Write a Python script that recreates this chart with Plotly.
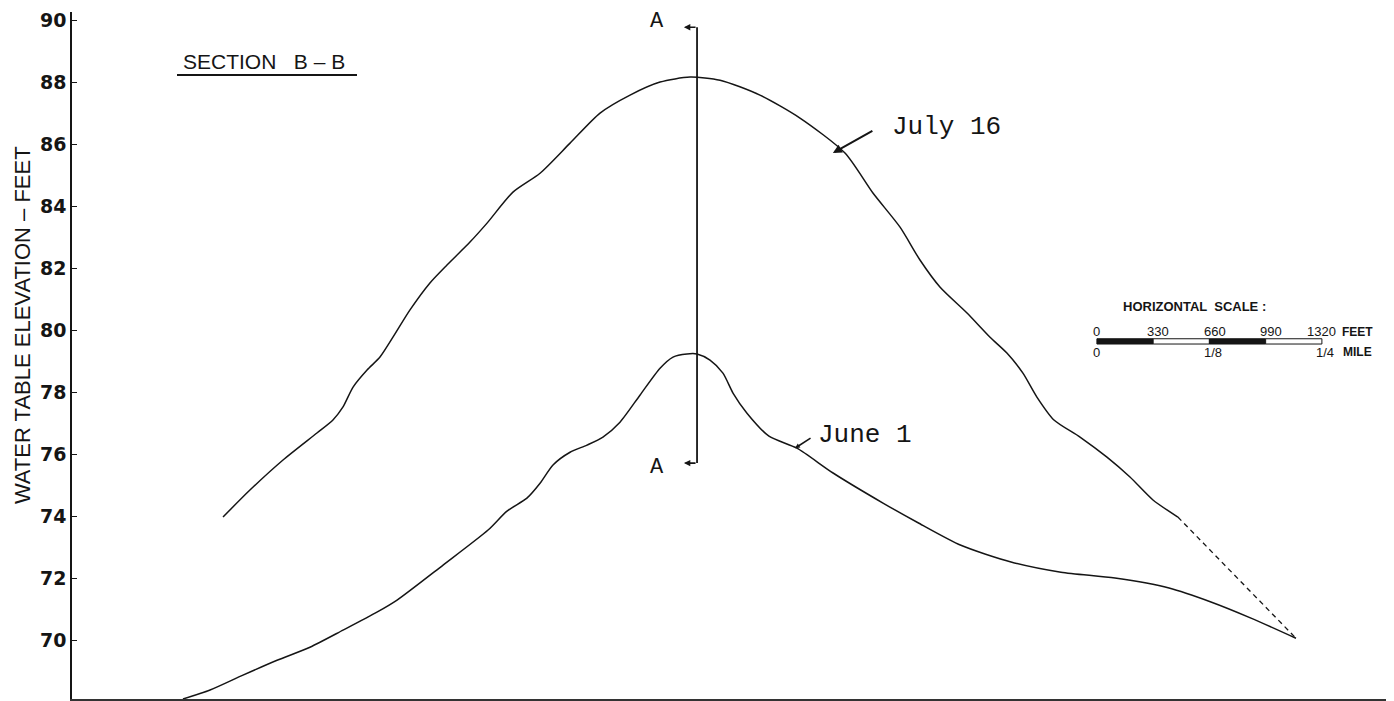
import plotly.graph_objects as go

# ---- data: distance along section (feet) and water-table elevation (feet) ----
july_dist = [886, 1044, 1238, 1437, 1531, 1590, 1649, 1731, 1807, 1883,
             1983, 2100, 2200, 2335, 2435, 2587, 2746, 2922, 3098, 3274,
             3450, 3626, 3802, 4036, 4271, 4535, 4699, 4858, 4975, 5092,
             5251, 5386, 5485, 5579, 5661, 5761, 5914, 6072, 6207, 6342,
             6488]
july_elev = [73.97, 74.84, 75.81, 76.68, 77.10, 77.52, 78.16, 78.71, 79.13, 79.77,
             80.65, 81.52, 82.10, 82.84, 83.45, 84.45, 85.06, 86.03, 87.00, 87.58,
             88.00, 88.16, 88.06, 87.58, 86.84, 85.71, 84.42, 83.32, 82.26, 81.39,
             80.55, 79.77, 79.26, 78.61, 77.84, 77.10, 76.55, 75.90, 75.26, 74.52,
             73.97]
july_extrap_dist = [6488, 7181]
july_extrap_elev = [73.97, 70.06]

june_dist = [651, 810, 1003, 1203, 1396, 1590, 1789, 1907, 2177, 2441,
             2552, 2669, 2746, 2822, 2922, 3021, 3115, 3215, 3332, 3450,
             3526, 3608, 3667, 3743, 3819, 3878, 3960, 4089, 4253, 4465,
             4758, 4969, 5215, 5509, 5802, 6119, 6436, 6682, 6917, 7181]
june_elev = [68.10, 68.39, 68.87, 69.35, 69.77, 70.32, 70.90, 71.29, 72.42, 73.55,
             74.16, 74.58, 75.06, 75.65, 76.06, 76.29, 76.55, 77.03, 77.90, 78.77,
             79.13, 79.23, 79.23, 79.03, 78.61, 77.97, 77.32, 76.58, 76.19, 75.39,
             74.42, 73.77, 73.06, 72.52, 72.19, 72.00, 71.68, 71.23, 70.71, 70.06]

y_ticks = [70, 72, 74, 76, 78, 80, 82, 84, 86, 88, 90]

# section A-A
section_a_dist = 3667
section_a_top = 89.77
section_a_bottom = 75.71
section_a_tick_dist = 3590

# horizontal scale bar
scale_origin_ft = 6013
scale_feet = [0, 330, 660, 990, 1320]
scale_feet_labels = ["0", "330", "660", "990", "1320"]
scale_mile_pos = [0, 660, 1320]
scale_mile_labels = ["0", "1/8", "1/4"]

LINE = "#151515"
SANS = "Liberation Sans, Arial, sans-serif"
MONO = "Liberation Mono, monospace"
fig = go.Figure()

fig.add_trace(go.Scatter(x=july_dist, y=july_elev, mode="lines",
                         line=dict(color=LINE, width=1.5, shape="spline", smoothing=0.7),
                         name="July 16", hoverinfo="skip"))
fig.add_trace(go.Scatter(x=july_extrap_dist, y=july_extrap_elev, mode="lines",
                         line=dict(color=LINE, width=1.3, dash="5px,4px"),
                         name="July 16 (inferred)", hoverinfo="skip"))
fig.add_trace(go.Scatter(x=june_dist, y=june_elev, mode="lines",
                         line=dict(color=LINE, width=1.5, shape="spline", smoothing=0.7),
                         name="June 1", hoverinfo="skip"))
# section line A-A
fig.add_trace(go.Scatter(x=[section_a_dist, section_a_dist], y=[section_a_top, section_a_bottom],
                         mode="lines", line=dict(color=LINE, width=1.8), hoverinfo="skip"))

ann = []
for yv in (section_a_top, section_a_bottom):
    ann.append(dict(x=section_a_tick_dist, y=yv, ax=section_a_dist, ay=yv, axref="x", ayref="y",
                    xref="x", yref="y", text="", showarrow=True, arrowhead=2, arrowsize=0.8,
                    arrowwidth=1.6, arrowcolor=LINE))
    ann.append(dict(x=3432, y=yv + 0.17 if yv > 80 else yv - 0.13, xref="x", yref="y", text="A",
                    showarrow=False, font=dict(family=MONO, size=22, color=LINE)))

# curve labels
ann.append(dict(x=5133, y=86.55, text="July 16", showarrow=False, xref="x", yref="y",
                font=dict(family=MONO, size=26, color=LINE)))
ann.append(dict(x=4464, y=85.71, ax=41, ay=-23, text="", showarrow=True, arrowhead=2,
                arrowsize=0.9, arrowwidth=2, arrowcolor=LINE, xref="x", yref="y"))
ann.append(dict(x=4652, y=76.61, text="June 1", showarrow=False, xref="x", yref="y",
                font=dict(family=MONO, size=26, color=LINE)))
ann.append(dict(x=4242, y=76.19, ax=17, ay=-11, text="", showarrow=True, arrowhead=2,
                arrowsize=0.6, arrowwidth=1.6, arrowcolor=LINE, xref="x", yref="y"))

# section title
ann.append(dict(x=640, y=88.65, xanchor="left", text="SECTION\u00a0\u00a0\u00a0B\u00a0–\u00a0B",
                showarrow=False, xref="x", yref="y",
                font=dict(family=SANS, size=21, color=LINE)))

# y axis title
ann.append(dict(x=0, xref="paper", xshift=-50, xanchor="center", y=80.16, yref="y",
                yanchor="middle", textangle=-90,
                text="WATER TABLE ELEVATION – FEET", showarrow=False,
                font=dict(family=SANS, size=22, color=LINE)))

# scale bar labels
ann.append(dict(x=scale_origin_ft + 570, y=80.75, text="<b>HORIZONTAL  SCALE :</b>", showarrow=False,
                xref="x", yref="y", font=dict(family=SANS, size=13, color=LINE)))
for f, lab in zip(scale_feet, scale_feet_labels):
    ann.append(dict(x=scale_origin_ft + f + (30 if 0 < f < 1320 else 0), y=79.94, text=lab,
                    showarrow=False, xref="x", yref="y",
                    font=dict(family=SANS, size=13, color=LINE)))
ann.append(dict(x=scale_origin_ft + 1320 + 210, y=79.94, text="<b>FEET</b>", showarrow=False,
                xref="x", yref="y", font=dict(family=SANS, size=12, color=LINE)))
for f, lab in zip(scale_mile_pos, scale_mile_labels):
    ann.append(dict(x=scale_origin_ft + f + (20 if f > 0 else 0), y=79.28, text=lab,
                    showarrow=False, xref="x", yref="y",
                    font=dict(family=SANS, size=13, color=LINE)))
ann.append(dict(x=scale_origin_ft + 1320 + 210, y=79.30, text="<b>MILE</b>", showarrow=False,
                xref="x", yref="y", font=dict(family=SANS, size=12, color=LINE)))

shapes = []
# underline of section title
shapes.append(dict(type="line", xref="x", yref="y", x0=616, x1=1672, y0=88.23, y1=88.23,
                   line=dict(color=LINE, width=2)))
# scale bar segments
for i in range(len(scale_feet) - 1):
    shapes.append(dict(type="rect", xref="x", yref="y",
                       x0=scale_origin_ft + scale_feet[i], x1=scale_origin_ft + scale_feet[i + 1],
                       y0=79.55, y1=79.72,
                       fillcolor=LINE if i % 2 == 0 else "white",
                       line=dict(color=LINE, width=1)))

# the page body has an 8px margin; figure is sized so the plot lands where the reference has it
fig.update_layout(
    width=1386, height=693,
    margin=dict(l=64, r=0, t=4, b=2, autoexpand=False),
    paper_bgcolor="white", plot_bgcolor="white",
    showlegend=False,
    annotations=ann, shapes=shapes,
    xaxis=dict(range=[0, 7756], showgrid=False, zeroline=False, showticklabels=False,
               ticks="", showline=True, linecolor="#333333", linewidth=2, automargin=False),
    yaxis=dict(range=[68.10, 90.26], showgrid=False, zeroline=False, automargin=False,
               tickvals=y_ticks, ticktext=[str(v) for v in y_ticks],
               ticks="inside", ticklen=5, tickcolor=LINE, tickwidth=1,
               showline=True, linecolor=LINE, linewidth=1.5,
               tickfont=dict(family="DejaVu Sans, sans-serif", size=19, color=LINE, weight="bold")),
)

fig.write_html("out.html")
